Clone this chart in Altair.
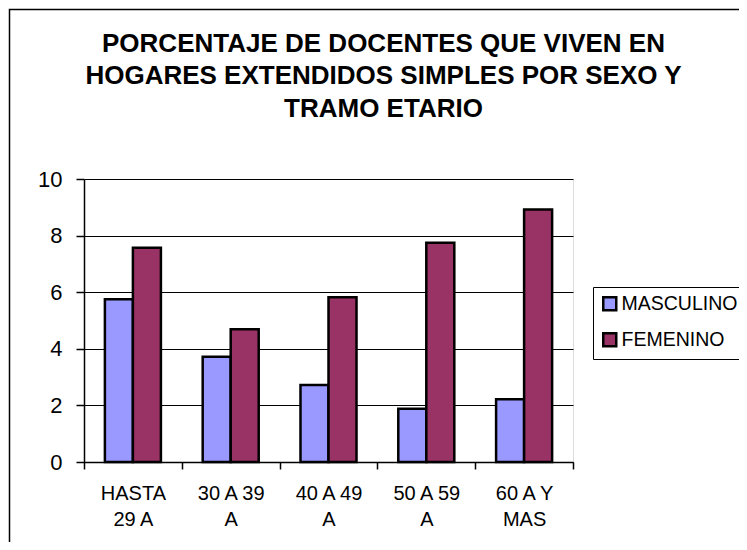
import altair as alt
import pandas as pd

categories = ["HASTA 29 A", "30 A 39 A", "40 A 49 A", "50 A 59 A", "60 A Y MAS"]
label_lines = [["HASTA", "29 A"], ["30 A 39", "A"], ["40 A 49", "A"], ["50 A 59", "A"], ["60 A Y", "MAS"]]
series = ["MASCULINO", "FEMENINO"]
masculino = [5.75, 3.72, 2.72, 1.88, 2.22]
femenino = [7.57, 4.69, 5.82, 7.75, 8.92]
colors = ["#9999FF", "#993366"]
title_lines = [
    "PORCENTAJE DE DOCENTES QUE VIVEN EN",
    "HOGARES EXTENDIDOS SIMPLES POR SEXO Y",
    "TRAMO ETARIO",
]

rows = []
for i, c in enumerate(categories):
    rows.append({"tramo": c, "sexo": series[0], "valor": masculino[i]})
    rows.append({"tramo": c, "sexo": series[1], "valor": femenino[i]})
df = pd.DataFrame(rows)

cats_js = "[" + ",".join("'" + c + "'" for c in categories) + "]"
lines_js = "[" + ",".join("[" + ",".join("'" + s + "'" for s in l) + "]" for l in label_lines) + "]"
label_expr = f"{lines_js}[indexof({cats_js}, datum.label)]"

FONT = "Liberation Sans"

bars = alt.Chart(df).mark_bar(stroke="black", strokeWidth=2.5).encode(
    x=alt.X(
        "tramo:N",
        sort=categories,
        title=None,
        scale=alt.Scale(paddingInner=0, paddingOuter=0),
        axis=alt.Axis(
            labelAngle=0,
            labelExpr=label_expr,
            labelFontSize=20,
            labelLineHeight=26.5,
            labelPadding=14,
            labelColor="black",
            labelFont=FONT,
            tickBand="extent",
            tickSize=7,
            tickColor="black",
            tickWidth=1.5,
            domainColor="black",
            domainWidth=1.5,
            grid=False,
        ),
    ),
    xOffset=alt.XOffset(
        "sexo:N",
        sort=series,
        scale=alt.Scale(paddingOuter=0.746, paddingInner=0),
    ),
    y=alt.Y(
        "valor:Q",
        title=None,
        scale=alt.Scale(domain=[0, 10], nice=False),
        axis=alt.Axis(
            values=[0, 2, 4, 6, 8, 10],
            labelFontSize=22,
            labelPadding=14,
            labelColor="black",
            labelFont=FONT,
            tickSize=8,
            tickColor="black",
            tickWidth=1.5,
            domainColor="black",
            domainWidth=1.5,
            grid=True,
            gridColor="black",
            gridWidth=1,
        ),
    ),
    color=alt.Color(
        "sexo:N",
        sort=series,
        scale=alt.Scale(domain=series, range=colors),
        legend=alt.Legend(
            title=None,
            orient="none",
            legendX=509,
            legendY=108,
            symbolType="square",
            symbolSize=169,
            symbolStrokeColor="black",
            symbolStrokeWidth=2.5,
            symbolOpacity=1,
            labelFontSize=19.5,
            labelFont=FONT,
            labelColor="black",
            labelOffset=2,
            rowPadding=12,
            padding=7,
            strokeColor="black",
            fillColor="white",
            labelLimit=300,
        ),
    ),
)

border = alt.Chart(alt.Data(values=[{"a": 1}])).mark_rect(
    filled=False, stroke="black", strokeWidth=1.5
).encode(
    x=alt.value(-74.5),
    x2=alt.value(720),
    y=alt.value(-169.5),
    y2=alt.value(420),
)

chart = alt.layer(border, bars).properties(
    width=489,
    height=283,
    autosize=alt.AutoSizeParams(type="none"),
    padding={"left": 76, "top": 171, "right": 166, "bottom": 80},
    title=alt.Title(
        text=title_lines,
        fontSize=26,
        font=FONT,
        fontWeight="bold",
        color="black",
        lineHeight=32.5,
        anchor="middle",
        dx=55,
        dy=117,
    ),
).configure_view(
    fill="#C0C0C0", stroke="#808080", strokeWidth=2
).configure(background="white")

chart.save("out.html", embed_options={"renderer": "svg", "actions": False})
